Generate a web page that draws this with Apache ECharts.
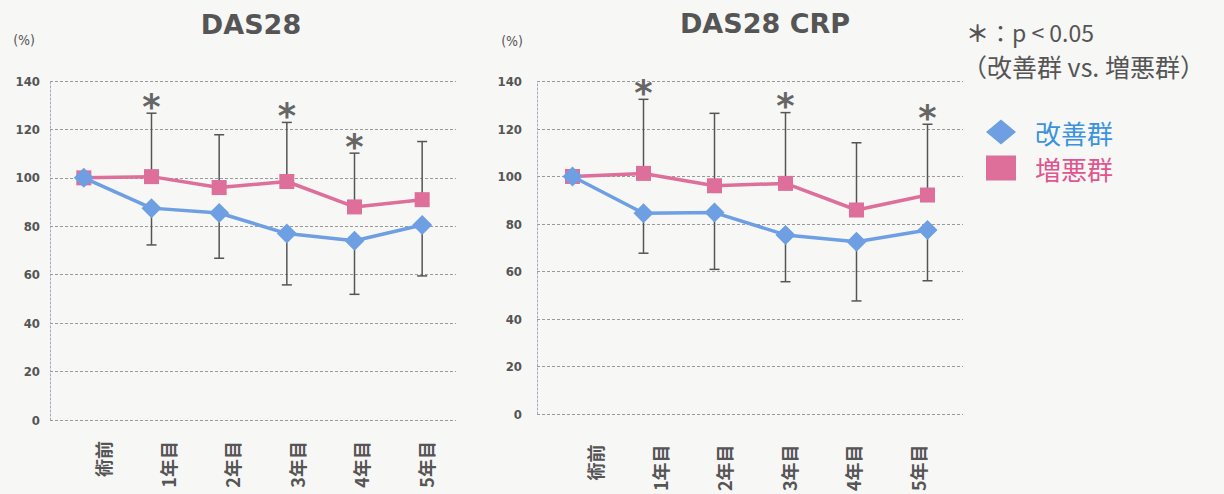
<!DOCTYPE html>
<html>
<head>
<meta charset="utf-8">
<script src="https://cdn.jsdelivr.net/npm/echarts@6/dist/echarts.min.js"></script>
<style>
  html, body { margin: 0; padding: 0; background: #f7f7f5; }
  #chart { width: 1224px; height: 494px; }
</style>
</head>
<body>
<div id="chart"></div>
<script>
// Time points after surgery
const categories = ['術前', '1年目', '2年目', '3年目', '4年目', '5年目'];

// DAS28 (% of baseline): means and one-sided SD bounds
const das28Improved = [100, 87.5, 85.5, 77, 74, 80.5];
const das28Worsened = [100, 100.5, 96, 98.5, 88, 91];
const das28ImprovedLower = [null, 72.3, 66.8, 55.8, 51.9, 59.5];
const das28WorsenedUpper = [null, 126.7, 117.8, 122.9, 110.2, 115];
const das28Significant = [false, true, false, true, true, false];

// DAS28 CRP (% of baseline)
const crpImproved = [100, 84.5, 84.8, 75.4, 72.5, 77.5];
const crpWorsened = [100, 101.3, 96.1, 97.1, 85.9, 92.2];
const crpImprovedLower = [null, 67.7, 60.9, 55.7, 47.6, 56.1];
const crpWorsenedUpper = [null, 132.5, 126.6, 126.9, 114.2, 122];
const crpSignificant = [false, true, false, true, false, true];

// Value axis range
const yMin = 0, yMax = 140, yStep = 20;

const BLUE = '#6f9fe3';
const PINK = '#dd6f9a';
const TEXT = '#555555';
const NARROW = '"DejaVu Sans Condensed", "Roboto", sans-serif';

function barData(means, bounds) {
  const out = [];
  bounds.forEach((b, i) => { if (b != null) out.push([i, means[i], b]); });
  return out;
}
function starData(bounds, flags) {
  const out = [];
  flags.forEach((f, i) => { if (f) out.push([i, bounds[i]]); });
  return out;
}

function errorBarSeries(axisIdx, means, bounds) {
  return {
    type: 'custom',
    xAxisIndex: axisIdx, yAxisIndex: axisIdx,
    z: 1,
    silent: true,
    data: barData(means, bounds),
    renderItem: function (params, api) {
      const p1 = api.coord([api.value(0), api.value(1)]);
      const p2 = api.coord([api.value(0), api.value(2)]);
      const s = { stroke: '#555', lineWidth: 1.5 };
      return {
        type: 'group',
        children: [
          { type: 'line', shape: { x1: p1[0], y1: p1[1], x2: p2[0], y2: p2[1] }, style: s },
          { type: 'line', shape: { x1: p2[0] - 5, y1: p2[1], x2: p2[0] + 5, y2: p2[1] }, style: s }
        ]
      };
    }
  };
}

// Significance asterisk above the upper error bar
function starSeries(axisIdx, bounds, flags) {
  return {
    type: 'custom',
    xAxisIndex: axisIdx, yAxisIndex: axisIdx,
    z: 4,
    silent: true,
    data: starData(bounds, flags),
    renderItem: function (params, api) {
      const p = api.coord([api.value(0), api.value(1)]);
      return {
        type: 'text',
        x: p[0], y: p[1] + 11,
        style: {
          text: '*', fill: '#666',
          font: 'bold 35px "DejaVu Sans"',
          textAlign: 'center', textVerticalAlign: 'bottom'
        }
      };
    }
  };
}

function lineSeries(axisIdx, name, data, color, symbol, size, z) {
  return {
    type: 'line', name: name,
    xAxisIndex: axisIdx, yAxisIndex: axisIdx,
    data: data, z: z,
    symbol: symbol, symbolSize: size,
    lineStyle: { color: color, width: 3.5 },
    itemStyle: { color: color },
    animation: false
  };
}

function valueAxis(gridIndex, margin, namePad) {
  return {
    gridIndex: gridIndex, type: 'value',
    min: yMin, max: yMax, interval: yStep,
    name: '(%)', nameLocation: 'end', nameGap: 34,
    nameTextStyle: { color: TEXT, fontSize: 14, fontFamily: NARROW, align: 'right', padding: [0, namePad, 0, 0] },
    axisLine: { show: true, lineStyle: { color: '#a3a8c8', type: [2, 2], width: 1 } },
    axisTick: { show: false },
    axisLabel: { color: TEXT, fontSize: 13, fontFamily: NARROW, fontWeight: 'bold', margin: margin },
    splitLine: { show: true, lineStyle: { color: '#9a9a9a', type: [3, 2], width: 1 } }
  };
}

function plotXAxis(gridIndex) {
  return {
    gridIndex: gridIndex, type: 'category', data: categories, boundaryGap: true,
    axisLine: { show: false }, axisTick: { show: false }, axisLabel: { show: false },
    splitLine: { show: false }
  };
}

function labelXAxis(gridIndex, margin) {
  return {
    gridIndex: gridIndex, type: 'category', data: categories, boundaryGap: true,
    axisLine: { show: false }, axisTick: { show: false },
    axisLabel: { rotate: 90, margin: margin, color: TEXT, fontSize: 18, fontWeight: 'bold', fontFamily: 'Noto Sans CJK JP' },
    splitLine: { show: false }
  };
}

const chart = echarts.init(document.getElementById('chart'), null, { renderer: 'svg' });

chart.setOption({
  backgroundColor: '#f7f7f5',
  animation: false,
  grid: [
    { left: 50, top: 81, width: 406, height: 339 },
    { left: 537, top: 81.5, width: 426, height: 332.5 },
    { left: 70.7, top: 81, width: 387.6, height: 339 },
    { left: 562.7, top: 81.5, width: 387.6, height: 332.5 }
  ],
  xAxis: [plotXAxis(0), plotXAxis(1), labelXAxis(2, 21), labelXAxis(3, 42)],
  yAxis: [
    valueAxis(0, 10, 15),
    valueAxis(1, 15, 14),
    { gridIndex: 2, type: 'value', min: yMin, max: yMax, show: false },
    { gridIndex: 3, type: 'value', min: yMin, max: yMax, show: false }
  ],
  legend: {
    orient: 'vertical', left: 981, top: 114,
    itemWidth: 30, itemHeight: 25, itemGap: 10,
    selectedMode: false,
    textStyle: { fontSize: 26, lineHeight: 26, fontFamily: 'Noto Sans CJK JP', padding: [0, 0, 0, 14] },
    data: [
      { name: '改善群', icon: 'diamond', textStyle: { color: '#3b93df' } },
      { name: '増悪群', icon: 'rect', textStyle: { color: '#e0558e' } }
    ]
  },
  graphic: [
    { type: 'text', x: 251, y: 24, style: { text: 'DAS28', font: 'bold 27px "DejaVu Sans"', fill: TEXT, textAlign: 'center', textVerticalAlign: 'middle' } },
    { type: 'text', x: 765, y: 23, style: { text: 'DAS28 CRP', font: 'bold 27px "DejaVu Sans"', fill: TEXT, textAlign: 'center', textVerticalAlign: 'middle' } },
    { type: 'text', x: 966, y: 32, style: {
        text: '{s|＊}：p < 0.05', font: '23px "Noto Sans CJK JP"', fill: TEXT, textAlign: 'left', textVerticalAlign: 'middle',
        rich: { s: { font: 'bold 23px "Noto Sans CJK JP"', fill: TEXT } } } },
    { type: 'text', x: 962, y: 66, style: { text: '（改善群 vs. 増悪群）', font: '25px "Noto Sans CJK JP"', fill: TEXT, textAlign: 'left', textVerticalAlign: 'middle' } }
  ],
  series: [
    errorBarSeries(0, das28Worsened, das28WorsenedUpper),
    errorBarSeries(0, das28Improved, das28ImprovedLower),
    lineSeries(0, '増悪群', das28Worsened, PINK, 'rect', 15, 2),
    lineSeries(0, '改善群', das28Improved, BLUE, 'diamond', 20, 3),
    starSeries(0, das28WorsenedUpper, das28Significant),

    errorBarSeries(1, crpWorsened, crpWorsenedUpper),
    errorBarSeries(1, crpImproved, crpImprovedLower),
    lineSeries(1, '増悪群', crpWorsened, PINK, 'rect', 15, 2),
    lineSeries(1, '改善群', crpImproved, BLUE, 'diamond', 20, 3),
    starSeries(1, crpWorsenedUpper, crpSignificant)
  ]
});
</script>
</body>
</html>
